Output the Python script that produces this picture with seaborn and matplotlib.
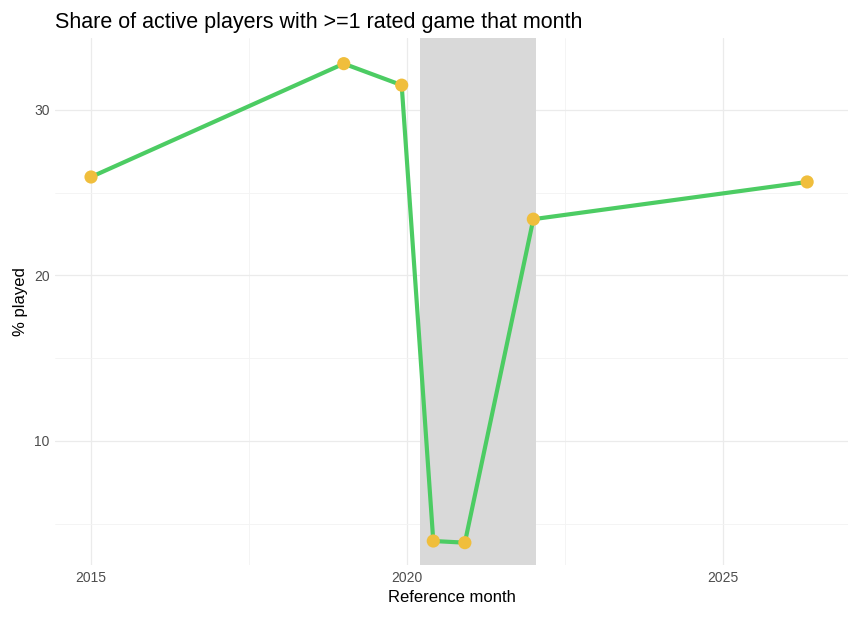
import matplotlib
matplotlib.use("Agg")
import matplotlib.pyplot as plt
import seaborn as sns
import pandas as pd

months = ["2015-01", "2019-01", "2019-12", "2020-06", "2020-12", "2022-01", "2026-05"]
pct_played = [25.95, 32.8, 31.5, 3.95, 3.85, 23.4, 25.65]
shade_start, shade_end = 2020.2, 2022.05

def dec_year(s):
    y, m = map(int, s.split("-"))
    return y + (m - 1) / 12

df = pd.DataFrame({"x": [dec_year(m) for m in months], "y": pct_played})

sns.set_theme(style="white")
plt.rcParams["font.family"] = ["Liberation Sans", "DejaVu Sans"]
fig = plt.figure(figsize=(8.58, 6.22), dpi=100)
ax = fig.add_axes([55/858, 1-565/622, 793/858, 527/622])

ax.axvspan(shade_start, shade_end, color="#d9d9d9", zorder=1, lw=0)
sns.lineplot(data=df, x="x", y="y", ax=ax, color="#4ccc63", lw=3, zorder=3)
sns.scatterplot(data=df, x="x", y="y", ax=ax, color="#f0be3c", s=90, edgecolor="none", zorder=4)

ax.set_xlim(2014.43, 2026.98)
ax.set_ylim(2.5, 34.35)
ax.set_xticks([2015, 2020, 2025])
ax.set_xticks([2017.5, 2022.5], minor=True)
ax.set_yticks([10, 20, 30])
ax.set_yticks([5, 15, 25], minor=True)
ax.grid(which="major", color="#ebebeb", lw=0.9, zorder=0)
ax.grid(which="minor", color="#f3f3f3", lw=0.6, zorder=0)
ax.set_axisbelow(True)
for s in ax.spines.values():
    s.set_visible(False)
ax.tick_params(axis="both", which="both", length=0, labelsize=10, labelcolor="#4d4d4d", pad=4)
ax.set_xlabel("Reference month", fontsize=12, color="black")
ax.set_ylabel("% played", fontsize=12, color="black")
ax.set_title("Share of active players with >=1 rated game that month", fontsize=15.5,
             loc="left", x=0.0, pad=7, color="black")
fig.savefig("out.png", dpi=100)
